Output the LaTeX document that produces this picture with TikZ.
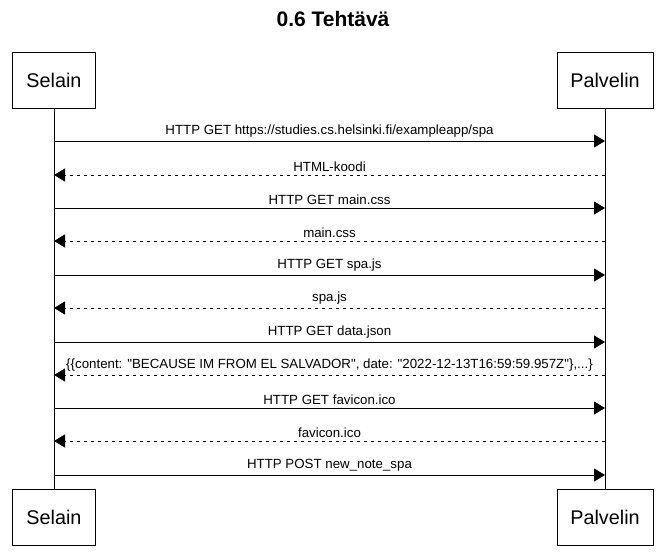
\documentclass[tikz,border=0pt]{standalone}
\usepackage{fontspec}
\setmainfont{Liberation Sans}[Ligatures=TeXOff]
\usetikzlibrary{arrows.meta}
\begin{document}
\begin{tikzpicture}[x=1pt,y=-1pt,
  actor/.style={draw,line width=0.9pt,minimum width=83pt,minimum height=56pt,font=\fontsize{19.8}{22}\selectfont,inner sep=0pt},
  msg/.style={line width=0.9pt,-{Triangle[length=11pt,width=13pt]}},
  reply/.style={msg,dash pattern=on 3.5pt off 3.5pt},
  lbl/.style={font=\fontsize{13.3}{15}\selectfont,inner sep=0pt,anchor=base}]
\useasboundingbox (0,0) rectangle (664,559);
\node[font=\bfseries\fontsize{21}{24}\selectfont] (title) at (333,19) {0.6 Tehtävä};
\node[actor] (s1) at (54,80) {Selain};
\node[actor,minimum width=96pt] (p1) at (605,80) {Palvelin};
\node[actor] (s2) at (54,517) {Selain};
\node[actor,minimum width=96pt] (p2) at (605,517) {Palvelin};
\draw[line width=0.9pt] (s1) -- (s2);
\draw[line width=0.9pt] (p1) -- (p2);
\foreach \i/\y in {1/141,2/175,3/208,4/241,5/275,6/308,7/342,8/375,9/408,10/441,11/475}{
  \coordinate (sl\i) at (54,\y);
  \coordinate (pl\i) at (605,\y);
}
\draw[msg] (sl1) -- node[lbl,above=3pt] {HTTP GET https://studies.cs.helsinki.fi/exampleapp/spa} (pl1);
\draw[reply] (pl2) -- node[lbl,above=3pt] {HTML-koodi} (sl2);
\draw[msg] (sl3) -- node[lbl,above=3pt] {HTTP GET main.css} (pl3);
\draw[reply] (pl4) -- node[lbl,above=3pt] {main.css} (sl4);
\draw[msg] (sl5) -- node[lbl,above=3pt] {HTTP GET spa.js} (pl5);
\draw[reply] (pl6) -- node[lbl,above=3pt] {spa.js} (sl6);
\draw[msg] (sl7) -- node[lbl,above=3pt] {HTTP GET data.json} (pl7);
\draw[reply] (pl8) -- node[lbl,above=3pt] {\{\{content: "BECAUSE IM FROM EL SALVADOR", date: "2022-12-13T16:59:59.957Z"\},...\}} (sl8);
\draw[msg] (sl9) -- node[lbl,above=3pt] {HTTP GET favicon.ico} (pl9);
\draw[reply] (pl10) -- node[lbl,above=3pt] {favicon.ico} (sl10);
\draw[msg] (sl11) -- node[lbl,above=3pt] {HTTP POST new\_note\_spa} (pl11);
\end{tikzpicture}
\end{document}
